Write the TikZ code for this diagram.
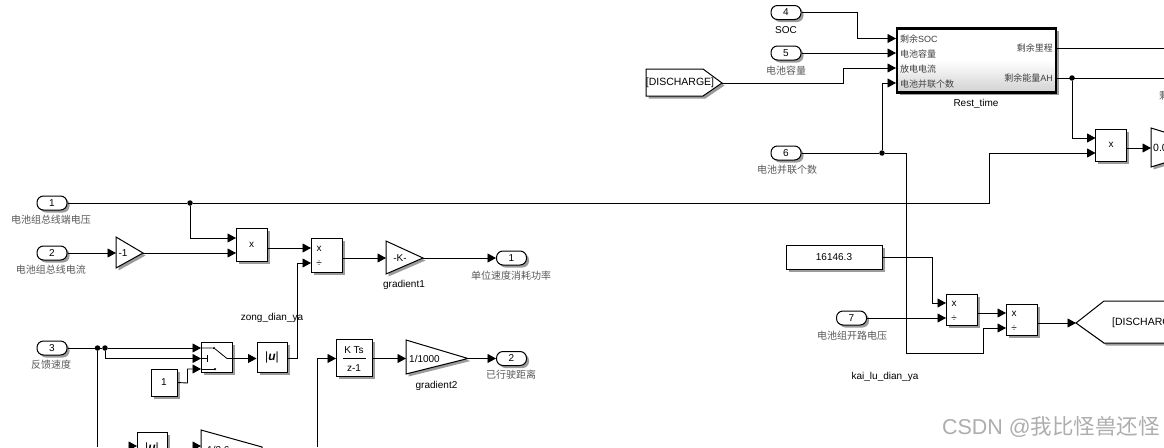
\documentclass[tikz,border=0pt]{standalone}
\usepackage{fontspec}
\setmainfont{Liberation Sans}
\newfontfamily\cjk{Noto Sans CJK SC}
\usetikzlibrary{arrows.meta,shadows,calc}
\definecolor{lbl}{gray}{0.35}
\newcommand{\absu}{\textbar{\bfseries\itshape u}\textbar}
\tikzset{
  x=1pt,y=-1pt,
  shad/.style={drop shadow={shadow xshift=2.5pt,shadow yshift=-2.5pt,opacity=.6,fill=black!65}},
  blk/.style={draw=black,line width=1pt,fill=white,inner sep=0pt,shad,font=\fontsize{10}{12}\selectfont},
  port/.style={blk,rounded corners=6.5pt,minimum width=30pt,minimum height=14pt},
  wire/.style={line width=.9pt,-{Triangle[length=8.5pt,width=9pt]}},
  plain/.style={line width=.9pt},
  dot/.style={circle,fill=black,inner sep=0pt,minimum size=5.5pt},
  lab/.style={inner sep=0pt,yshift=-.7pt,font=\fontsize{10}{12}\selectfont},
  clab/.style={inner sep=0pt,yshift=-.7pt,text=lbl,font=\fontsize{10}{12}\selectfont\cjk},
  rlab/.style={inner sep=0pt,yshift=-.5pt,text=black!75,font=\fontsize{9}{11}\selectfont},
  glyph/.style={inner sep=0pt,font=\fontsize{10}{12}\selectfont},
}
\begin{document}
\begin{tikzpicture}
\clip (0,0) rectangle (1164,447);
% ---------- upper right
\node[port] (p4) at (786,12.5) {4};
\node[lab] (lsoc) at (786,29) {SOC};
\node[port] (p5) at (786,53) {5};
\node[clab] (l5) at (786,70) {电池容量};
\node[port] (p6) at (786,153) {6};
\node[clab] (l6) at (787,169) {电池并联个数};
\draw[blk] (646,69) -- (703,69) -- (722,83) -- (703,96) -- (646,96) -- cycle;
\node[glyph,font=\fontsize{10.5}{12}\selectfont] (gf) at (680,83) {[DISCHARGE]};
\coordinate (gfout) at (722,83);
\node[draw=black,line width=2.2pt,minimum width=159pt,minimum height=64pt,inner sep=0pt,top color=white,bottom color=black!18,middle color=white,shad] (rest) at (976.5,60.5) {};
\node[rlab,anchor=west] (r1) at (900,38.5) {{\cjk 剩余}SOC};
\node[rlab,anchor=west] (r2) at (900,53.5) {\cjk 电池容量};
\node[rlab,anchor=west] (r3) at (900,68.5) {\cjk 放电电流};
\node[rlab,anchor=west] (r4) at (900,83.5) {\cjk 电池并联个数};
\node[rlab,anchor=east] (r5) at (1053,48) {\cjk 剩余里程};
\node[rlab,anchor=east] (r6) at (1053,78) {{\cjk 剩余能量}AH};
\node[lab] (lrest) at (976,103) {Rest\_time};
\coordinate (ri1) at (896,38.5);
\coordinate (ri2) at (896,53);
\coordinate (ri3) at (896,68);
\coordinate (ri4) at (896,83);
\coordinate (ro1) at (1057,48);
\coordinate (ro2) at (1057,78);
\coordinate (re1) at (1164,48);
\coordinate (re2) at (1164,78);
\draw[wire] (p4.east) -- (857,12.5) |- (ri1);
\draw[wire] (p5.east) -- (ri2);
\draw[wire] (gfout) -- (843,83) |- (ri3);
\node[dot] (j6) at (882,153) {};
\draw[plain] (p6.east) -- (j6);
\draw[wire] (j6) |- (ri4);
\draw[plain] (ro1) -- (re1);
\node[dot] (jah) at (1072,78) {};
\draw[plain] (ro2) -- (re2);
\node[blk,minimum width=31pt,minimum height=32pt] (mul3) at (1111,145) {x};
\coordinate (m3a) at (1095.5,138);
\coordinate (m3b) at (1095.5,153);
\draw[wire] (jah) |- (m3a);
\draw[blk] (1151,128) -- (1190,140) -- (1190,155) -- (1151,167) -- cycle;
\node[glyph,anchor=west,font=\fontsize{10.5}{12}\selectfont] (g3) at (1153,148) {0.0};
\coordinate (g3in) at (1151,148);
\draw[wire] (mul3.east |- g3in) -- (g3in);
\node[clab,anchor=west] (lclip) at (1159,95) {剩};
% ---------- left
\node[port] (p1) at (52,203) {1};
\node[clab] (l1) at (51,219) {电池组总线端电压};
\node[port] (p2) at (52,253) {2};
\node[clab] (l2) at (51,269) {电池组总线电流};
\node[port] (p3) at (52,348) {3};
\node[clab] (l3) at (51,364) {反馈速度};
\draw[blk] (116,237) -- (143,253) -- (116,268) -- cycle;
\node[glyph] (g1) at (123,253) {-1};
\coordinate (g1in) at (116,253);
\coordinate (g1out) at (143,253);
\node[blk,minimum width=31pt,minimum height=33pt] (mul1) at (251.5,245) {x};
\coordinate (m1a) at (236,238);
\coordinate (m1b) at (236,253);
\coordinate (m1o) at (267,248);
\node[blk,minimum width=31pt,minimum height=34pt] (div1) at (326.5,255) {};
\node[glyph] (d1x) at (319,248.5) {x};
\node[glyph] (d1d) at (319,264) {÷};
\coordinate (d1a) at (311,248);
\coordinate (d1b) at (311,263);
\coordinate (d1o) at (342,258);
\draw[blk] (386,241) -- (423,258) -- (386,274) -- cycle;
\node[glyph] (gk) at (400,258) {-K-};
\coordinate (gkin) at (386,258);
\coordinate (gkout) at (423,258);
\node[lab] (lg1) at (404,284) {gradient1};
\node[port] (o1) at (511.5,258) {1};
\node[clab] (lo1) at (511,275) {单位速度消耗功率};
\node[lab] (lz) at (272,317) {zong\_dian\_ya};
\node[dot] (j1) at (190,203) {};
\coordinate (bus) at (989,203);
\draw[plain] (p1.east) -- (j1);
\draw[wire] (j1) -- (bus) |- (m3b);
\draw[wire] (j1) |- (m1a);
\draw[wire] (p2.east) -- (g1in);
\draw[wire] (g1out) -- (m1b);
\draw[wire] (m1o) -- (d1a);
\draw[wire] (d1o) -- (gkin);
\draw[wire] (gkout) -- (o1.west);
% switch
\node[blk,minimum width=31pt,minimum height=30pt] (sw) at (216.5,357) {};
\coordinate (sa) at (201,348);
\coordinate (sb) at (201,358.5);
\coordinate (sc) at (201,369);
\coordinate (so) at (232,358.5);
\node[dot,minimum size=2.5pt] (sd1) at (214,348) {};
\node[dot,minimum size=2.5pt] (sd2) at (215,369) {};
\draw[line width=.8pt] (sa) -- (sd1) -- (227,358.5) -- (so);
\draw[line width=.8pt] (sb) -- (207,358.5) (207,355) -- (207,362);
\draw[line width=.8pt] (sc) -- (sd2);
\node[blk,minimum width=26pt,minimum height=27pt,font=\fontsize{10}{12}\selectfont] (c1) at (164,382.5) {1};
\node[blk,minimum width=30pt,minimum height=30pt,font=\fontsize{12}{14}\selectfont] (abs1) at (272,357) {\absu};
\node[dot] (j3a) at (97.5,348) {};
\node[dot] (j3b) at (105,348) {};
\draw[plain] (p3.east) -- (j3a) -- (j3b);
\draw[wire] (j3b) -- (sa);
\draw[wire] (j3b) |- (sb);
\draw[wire] (c1.east) -- (187.5,383) |- (sc);
\draw[wire] (so) -- (abs1.west |- so);
\draw[wire] (abs1.east |- so) -- (297.5,358.5) |- (d1b);
% integrator
\node[blk,minimum width=36pt,minimum height=37pt] (int) at (354,357.5) {};
\node[glyph] (it) at (354,350) {K Ts};
\node[glyph] (ib) at (354,368) {z-1};
\draw[line width=.7pt] (343,358) -- (366,358);
\coordinate (iin) at (336,358.5);
\coordinate (iout) at (372,358.5);
\draw[blk] (406,340) -- (468,358.5) -- (406,374) -- cycle;
\node[glyph,anchor=west] (g2) at (409,358.5) {1/1000};
\coordinate (g2in) at (406,358.5);
\coordinate (g2out) at (468,358.5);
\node[lab] (lg2) at (436.5,385) {gradient2};
\node[port] (o2) at (511.5,358.5) {2};
\node[clab] (lo2) at (511,374) {已行驶距离};
\draw[wire] (iout) -- (g2in);
\draw[wire] (g2out) -- (o2.west);
% bottom clipped row
\coordinate (bot1) at (97.5,447);
\coordinate (bot2) at (317.5,447);
\draw[plain] (j3a) -- (bot1);
\draw[wire] (bot2) |- (iin);
\node[blk,minimum width=30pt,minimum height=32pt,anchor=north,font=\fontsize{12}{14}\selectfont] (abs2) at (152,432) {\absu};
\coordinate (abs2in) at (137,446);
\draw[wire] (129,446) -- (abs2in);
\draw[blk] (201,430) -- (262,447) -- (262,470) -- (201,470) -- cycle;
\node[glyph,anchor=west] (g4) at (207,450) {1/3.6};
\coordinate (g4in) at (201,446);
\draw[wire] (193,446) -- (g4in);
% ---------- lower right
\node[blk,minimum width=96pt,minimum height=24pt] (k) at (834,257) {16146.3};
\node[port] (p7) at (851.5,318) {7};
\node[clab] (l7) at (852,335) {电池组开路电压};
\node[blk,minimum width=31pt,minimum height=31pt] (div2) at (961.5,309.5) {};
\node[glyph] (d2x) at (954,304) {x};
\node[glyph] (d2d) at (954,319) {÷};
\coordinate (d2a) at (946,303);
\coordinate (d2b) at (946,318);
\coordinate (d2o) at (977,313);
\node[blk,minimum width=31pt,minimum height=31pt] (div3) at (1021.5,319.5) {};
\node[glyph] (d3x) at (1014,314) {x};
\node[glyph] (d3d) at (1014,329) {÷};
\coordinate (d3a) at (1006,313);
\coordinate (d3b) at (1006,328);
\coordinate (d3o) at (1037,323);
\draw[blk] (1076,323) -- (1104,301) -- (1190,301) -- (1190,343) -- (1104,343) -- cycle;
\node[glyph,anchor=west,font=\fontsize{10.5}{12}\selectfont] (gt) at (1112,323) {[DISCHARGE]};
\coordinate (gtin) at (1076,323);
\node[lab] (lk) at (885,376) {kai\_lu\_dian\_ya};
\draw[wire] (j6) -- (906.5,153) -- (906.5,353) -- (983,353) |- (d3b);
\draw[wire] (k.east) -- (932,257) |- (d2a);
\draw[wire] (p7.east) -- (d2b);
\draw[wire] (d2o) -- (d3a);
\draw[wire] (d3o) -- (gtin);
% watermark
\node[anchor=east,inner sep=0pt,text=black!32,font=\fontsize{21.5}{24}\selectfont] (wm) at (1160,427) {CSDN @{\cjk 我比怪兽还怪}};
\end{tikzpicture}
\end{document}
